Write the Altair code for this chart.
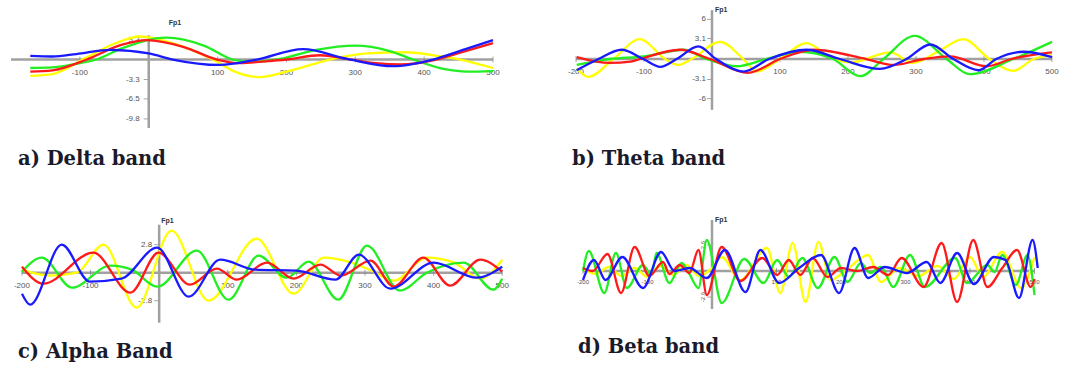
import altair as alt
import pandas as pd

# ---------------- a) Delta band ----------------
delta_yellow_x = [-172, -140, -96, -50, -13, 40, 93, 125, 161, 200, 263, 317, 375, 420, 452, 500]
delta_yellow_y = [-2.7, -2.4, 0.0, 2.6, 3.8, 2.5, 0.0, -2.0, -2.9, -2.0, 0.0, 1.0, 1.2, 0.6, 0.0, -1.4]
delta_green_x = [-172, -140, -110, -76, -40, 26, 80, 122, 150, 190, 243, 300, 350, 384, 430, 462, 500]
delta_green_y = [-1.4, -1.3, -0.8, 0.0, 1.8, 3.6, 2.3, 0.0, -0.4, 0.1, 1.6, 2.3, 1.4, 0.0, -1.6, -2.0, -1.9]
delta_red_x = [-172, -140, -90, -40, -3, 50, 99, 132, 170, 200, 249, 288, 330, 365, 418, 460, 500]
delta_red_y = [-2.0, -1.8, 0.0, 2.4, 3.2, 2.1, 0.0, -0.6, -0.3, 0.0, 0.7, 0.1, -0.6, -0.8, 0.0, 1.4, 2.7]
delta_blue_x = [-172, -140, -105, -55, 0, 35, 103, 157, 224, 288, 355, 413, 460, 500]
delta_blue_y = [0.6, 0.5, 0.9, 1.6, 1.0, 0.0, -0.9, 0.0, 1.7, 0.1, -1.1, 0.0, 1.7, 3.2]
delta_xlabels = [-100, 100, 200, 300, 400, 500]
delta_yticks = [3.3, -3.3, -6.5, -9.8]
delta_ylabels = ["3.3", "-3.3", "-6.5", "-9.8"]

# ---------------- b) Theta band ----------------
theta_yellow_x = [-199, -182, -145, -106, -69, -50, -30, 12, 46, 66, 100, 139, 178, 205, 262, 296, 330, 370, 408, 443, 473, 500]
theta_yellow_y = [-1.4, -2.7, 0.0, 3.0, 0.0, -0.9, 0.0, 2.6, 0.0, -1.9, 0.0, 2.4, 0.0, -0.5, 1.0, -0.6, 1.0, 3.0, 0.0, -1.8, 0.0, 0.6]
theta_green_x = [-199, -150, -100, -42, -8, 36, 80, 129, 178, 218, 252, 298, 345, 379, 443, 500]
theta_green_y = [-0.9, 0.0, 0.4, 1.4, 0.0, -1.1, 0.0, 1.1, 0.0, -2.6, 0.0, 3.5, 0.0, -2.3, 0.0, 2.6]
theta_red_x = [-199, -150, -120, -106, -47, -3, 53, 100, 149, 227, 267, 311, 350, 404, 440, 500]
theta_red_y = [0.3, -0.6, -0.4, 0.0, 1.4, 0.0, -2.1, 0.0, 1.4, 0.0, -0.9, 0.0, 0.4, -1.1, 0.0, 1.0]
theta_blue_x = [-199, -167, -133, -101, -76, -52, -20, 6, 46, 84, 139, 188, 247, 286, 321, 355, 392, 418, 458, 500]
theta_blue_y = [-1.7, 0.0, 1.4, 0.0, -1.2, 0.0, 1.9, 0.0, -1.9, 0.0, 1.4, 0.0, -1.5, 0.0, 2.2, 0.0, -1.7, 0.0, 1.1, 0.3]
theta_xlabels = [-200, -100, 100, 200, 300, 400, 500]
theta_yticks = [6, 3.1, -3.1, -6]
theta_ylabels = ["6", "3.1", "-3.1", "-6"]

# ---------------- c) Alpha band ----------------
alpha_yellow_x = [-200, -160, -120, -81, -33, 18, 72, 142, 196, 240, 280, 310, 342, 390, 430, 468, 500]
alpha_yellow_y = [0.3, -0.3, 0.0, 2.8, -3.5, 4.2, -2.8, 3.4, -2.1, 1.5, 1.0, 0.2, -0.8, 1.5, 1.0, -0.6, 1.3]
alpha_green_x = [-200, -171, -127, -71, -40, -3, 55, 101, 145, 186, 218, 261, 303, 351, 390, 444, 487, 500]
alpha_green_y = [0.1, 1.5, -1.5, 0.7, 0.3, -1.4, 2.2, -2.7, 1.7, -0.5, 1.1, -2.7, 2.7, -1.8, 0.0, 1.0, -1.7, -0.6]
alpha_red_x = [-200, -169, -96, -42, -1, 45, 84, 113, 157, 196, 235, 265, 308, 342, 385, 424, 468, 500]
alpha_red_y = [0.6, -1.1, 2.0, -2.0, 2.0, -1.2, 0.4, -0.7, 1.0, -0.6, 0.8, -0.3, 1.2, -1.4, 1.5, -1.3, 1.3, 0.1]
alpha_blue_x = [-200, -188, -142, -101, -55, -3, 43, 89, 140, 200, 257, 291, 337, 400, 463, 500]
alpha_blue_y = [-2.1, -3.2, 2.8, -0.9, -0.6, 2.5, -2.4, 1.3, 0.3, 0.2, -0.7, 1.8, -1.6, 1.0, -0.5, 0.6]
alpha_xlabels = [-200, -100, 100, 200, 300, 400, 500]
alpha_yticks = [2.8, -2.8]
alpha_ylabels = ["2.8", "-2.8"]

# ---------------- d) Beta band ----------------
beta_yellow_x = [-200, -180, -160, -140, -120, -100, -80, -60, -40, -20, 0, 15, 44, 85, 106, 125, 145, 165, 184, 210, 242, 262, 290, 320, 350, 375, 400, 420, 450, 479, 500]
beta_yellow_y = [0.2, -0.3, 0.4, -0.5, 0.3, -0.6, 0.5, -0.4, 0.6, -0.5, 0.3, 1.4, -0.9, 2.3, -2.2, 2.8, -3.1, 2.9, -0.9, 0.2, 1.6, -1.1, 0.3, -0.5, 0.5, -0.8, 1.4, -0.6, 1.9, -1.7, 1.4]
beta_green_x = [-200, -191, -167, -149, -132, -107, -94, -86, -66, -47, -35, -21, -8, 15, 50, 80, 101, 119, 140, 164, 190, 210, 231, 245, 262, 281, 307, 330, 377, 395, 427, 438, 450, 471, 489, 500]
beta_green_y = [0.0, 2.0, -2.2, 1.8, -1.7, 0.6, -0.4, 1.8, -1.2, 0.8, -0.3, -1.7, 3.1, -3.2, 1.2, -1.2, 1.1, -0.6, 1.3, -1.7, 1.4, -1.1, 0.8, -0.2, 0.4, -1.6, 1.6, -1.6, 1.3, -1.2, 0.6, -0.1, 1.6, -1.4, 1.6, -2.4]
beta_red_x = [-200, -185, -162, -141, -120, -97, -76, -66, -50, -35, -21, -8, 15, 44, 78, 101, 119, 137, 156, 179, 200, 225, 250, 273, 294, 328, 356, 380, 405, 427, 450, 473, 494, 500]
beta_red_y = [0.3, 0.0, 1.7, -2.2, 2.4, -0.5, 0.9, -0.3, 0.6, -0.2, 2.1, -2.4, 2.4, -1.0, 1.3, -0.4, 1.1, -0.4, 1.3, -0.6, 0.3, 0.0, 0.4, -0.4, 1.3, -1.6, 2.8, -3.1, 3.1, -1.6, 0.3, 2.1, -1.6, -0.8]
beta_blue_x = [-200, -183, -165, -139, -107, -79, -58, -35, -8, 20, 52, 75, 104, 135, 169, 197, 221, 242, 268, 302, 333, 354, 380, 406, 437, 455, 476, 497, 505]
beta_blue_y = [-0.9, 1.1, -0.9, 1.4, -1.7, 1.9, 0.0, 0.3, -0.7, 2.1, -2.1, 2.1, -1.2, 0.3, 1.6, -2.2, 2.3, -0.7, 0.4, -0.2, 0.9, -1.2, 1.8, -1.3, 1.4, 1.1, -2.7, 3.1, 0.3]
beta_xlabels = [-200, -100, 100, 200, 300, 400, 500]
beta_yticks = [2.6, -2.6]
beta_ylabels = ["2.6", "-2.6"]

COLORS = {"yellow": "#ffff00", "green": "#22ee22", "red": "#ff1a1a", "blue": "#1a1aff"}
AXIS_GRAY = "#a0a0a0"
LABEL_GRAY = "#555555"
PANEL_W, PANEL_H = 535, 186


def build_panel(series, xdom, ydom, yspan, xlabels, yticks, ylabels, fp_dx, fp_dy,
                caption, cap_dx, cap_offset, lab_size=8, lab_dy=13, ylab_dx=-8, ylab_angle=0):
    sx = alt.Scale(domain=xdom, nice=False, zero=False)
    sy = alt.Scale(domain=ydom, nice=False, zero=False)
    one = pd.DataFrame({"k": [0]})
    layers = []
    # horizontal axis line
    layers.append(alt.Chart(one).mark_rule(color=AXIS_GRAY, strokeWidth=2.5).encode(
        x=alt.XDatum(-200, scale=sx, axis=None), x2=alt.X2Datum(500),
        y=alt.YDatum(0, scale=sy, axis=None)))
    # vertical axis line
    layers.append(alt.Chart(one).mark_rule(color=AXIS_GRAY, strokeWidth=2.5).encode(
        x=alt.XDatum(0, scale=sx, axis=None),
        y=alt.YDatum(yspan[1], scale=sy, axis=None), y2=alt.Y2Datum(yspan[0])))
    xl = pd.DataFrame({"x": xlabels, "lab": [str(v) for v in xlabels]})
    layers.append(alt.Chart(xl).mark_tick(orient="vertical", color="#808080", size=6, thickness=1).encode(
        x=alt.X("x:Q", scale=sx, axis=None), y=alt.YDatum(0, scale=sy, axis=None)))
    layers.append(alt.Chart(xl).mark_text(baseline="middle", dy=lab_dy, fontSize=lab_size,
                                          font="Liberation Sans", color=LABEL_GRAY).encode(
        x=alt.X("x:Q", scale=sx, axis=None), y=alt.YDatum(0, scale=sy, axis=None), text="lab:N"))
    yl = pd.DataFrame({"y": yticks, "lab": ylabels})
    layers.append(alt.Chart(yl).mark_tick(orient="horizontal", color="#808080", size=4, thickness=1, xOffset=-3).encode(
        x=alt.XDatum(0, scale=sx, axis=None), y=alt.Y("y:Q", scale=sy, axis=None)))
    if ylab_angle:
        ytxt = alt.Chart(yl).mark_text(baseline="middle", align="center", angle=ylab_angle,
                                       xOffset=ylab_dx, fontSize=lab_size, font="Liberation Sans", color=LABEL_GRAY)
    else:
        ytxt = alt.Chart(yl).mark_text(baseline="middle", align="right", dx=ylab_dx,
                                       fontSize=lab_size, font="Liberation Sans", color=LABEL_GRAY)
    layers.append(ytxt.encode(x=alt.XDatum(0, scale=sx, axis=None), y=alt.Y("y:Q", scale=sy, axis=None), text="lab:N"))
    # channel name
    layers.append(alt.Chart(one).mark_text(text="Fp1", align="left", baseline="middle", dx=fp_dx, dy=fp_dy,
                                           fontSize=7, fontWeight="bold", font="Liberation Sans", color="#333333").encode(
        x=alt.XDatum(0, scale=sx, axis=None), y=alt.YDatum(yspan[1], scale=sy, axis=None)))
    for name, xs, ys in series:
        df = pd.DataFrame({"x": xs, "y": ys})
        layers.append(alt.Chart(df).mark_line(color=COLORS[name], strokeWidth=2.3, interpolate="monotone").encode(
            x=alt.X("x:Q", scale=sx, axis=None), y=alt.Y("y:Q", scale=sy, axis=None)))
    return alt.layer(*layers).properties(
        width=PANEL_W, height=PANEL_H,
        title=alt.TitleParams(text=caption, orient="bottom", anchor="start", frame="group",
                              baseline="alphabetic", offset=cap_offset, dx=cap_dx,
                              font="DejaVu Serif", fontSize=19.5, fontWeight="bold", color="#1a1a2a"))


pa = build_panel(
    [("yellow", delta_yellow_x, delta_yellow_y), ("green", delta_green_x, delta_green_y),
     ("red", delta_red_x, delta_red_y), ("blue", delta_blue_x, delta_blue_y)],
    [-216, 561], [-20.87, 9.82], [-11.3, 4.0], delta_xlabels, delta_yticks, delta_ylabels,
    fp_dx=20, fp_dy=-12, caption="a) Delta band", cap_dx=18, cap_offset=-21, ylab_dx=-9)

pb = build_panel(
    [("yellow", theta_yellow_x, theta_yellow_y), ("green", theta_green_x, theta_green_y),
     ("red", theta_red_x, theta_red_y), ("blue", theta_blue_x, theta_blue_y)],
    [-260.3, 526.5], [-19.24, 8.94], [-7.7, 7.4], theta_xlabels, theta_yticks, theta_ylabels,
    fp_dx=3, fp_dy=0, caption="b) Theta band", cap_dx=37, cap_offset=-21, ylab_dx=-6)

pc = build_panel(
    [("yellow", alpha_yellow_x, alpha_yellow_y), ("green", alpha_green_x, alpha_green_y),
     ("red", alpha_red_x, alpha_red_y), ("blue", alpha_blue_x, alpha_blue_y)],
    [-232, 547.8], [-9.93, 8.67], [-5.0, 4.8], alpha_xlabels, alpha_yticks, alpha_ylabels,
    fp_dx=2, fp_dy=-4, caption="c) Alpha Band", cap_dx=18, cap_offset=-14, ylab_dx=-7)

pd_ = build_panel(
    [("yellow", beta_yellow_x, beta_yellow_y), ("green", beta_green_x, beta_green_y),
     ("red", beta_red_x, beta_red_y), ("blue", beta_blue_x, beta_blue_y)],
    [-274.4, 555], [-10.1, 8.5], [-3.8, 5.1], beta_xlabels, beta_yticks, beta_ylabels,
    fp_dx=3, fp_dy=0, caption="d) Beta band", cap_dx=43, cap_offset=-19,
    lab_size=6, lab_dy=11, ylab_dx=-9, ylab_angle=270)

chart = alt.concat(pa, pb, pc, pd_, columns=2, spacing=0, bounds="flush").properties(
    padding=0, background="white").configure_view(strokeWidth=0)

chart.save("out.html", embed_options={"renderer": "svg", "actions": False})
